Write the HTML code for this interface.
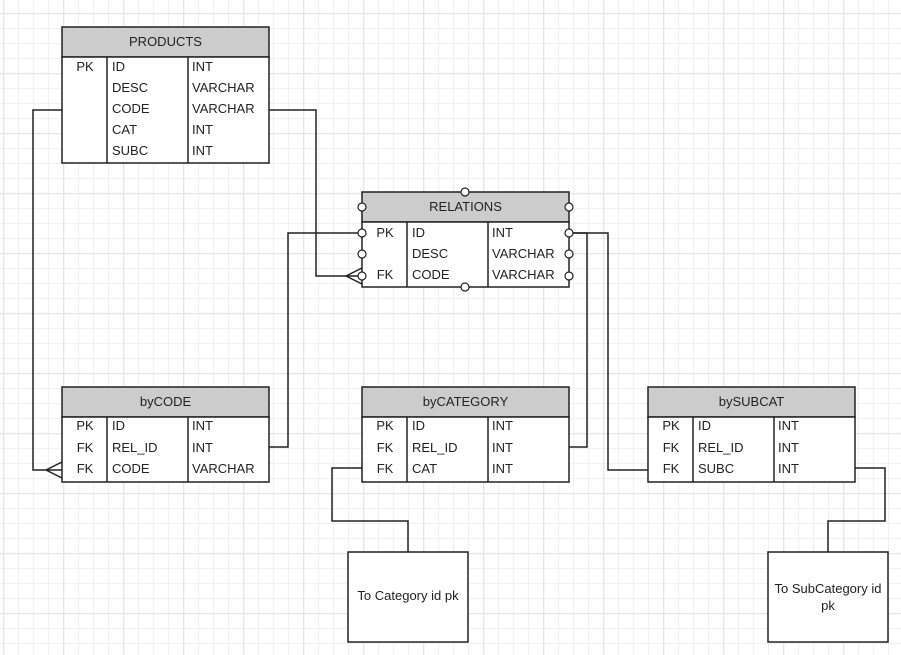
<!DOCTYPE html>
<html><head><meta charset="utf-8"><style>
html,body{margin:0;padding:0;background:#fff;}
svg{display:block;}
text{font-family:"Liberation Sans",sans-serif;font-size:13px;fill:#222;}
</style></head><body>
<svg width="901" height="655" viewBox="0 0 901 655" xmlns="http://www.w3.org/2000/svg">
<defs>
<pattern id="minor" x="3" y="-2" width="15" height="15" patternUnits="userSpaceOnUse">
<path d="M0.5 0V15M0 0.5H15" stroke="#f1f1f1" stroke-width="1.3" fill="none"/>
</pattern>
<pattern id="major" x="3" y="13" width="60" height="60" patternUnits="userSpaceOnUse">
<path d="M0.5 0V60M0 0.5H60" stroke="#e6e6e6" stroke-width="1.6" fill="none"/>
</pattern>
</defs>
<rect width="901" height="655" fill="url(#minor)"/>
<rect width="901" height="655" fill="url(#major)"/>

<g stroke="#222" stroke-width="1.5" fill="none">
<!-- connectors -->
<polyline points="62,110 33,110 33,470 62,470"/>
<polyline points="46,470 62,462"/><polyline points="46,470 62,478"/>
<polyline points="269,110 316,110 316,276 362,276"/>
<polyline points="346,276 362,268"/><polyline points="346,276 362,284"/>
<polyline points="362,233 288,233 288,447 269,447"/>
<polyline points="569,233 587,233 587,447 569,447"/>
<polyline points="569,233 608,233 608,470 648,470"/>
<polyline points="362,468 332,468 332,521 408,521 408,552"/>
<polyline points="855,468 885,468 885,521 828,521 828,552"/>
</g>

<!-- PRODUCTS -->
<g stroke="#222" stroke-width="1.5">
<rect x="62" y="27" width="207" height="30" fill="#cccccc"/>
<rect x="62" y="57" width="207" height="106" fill="#fff"/>
<line x1="107" y1="57" x2="107" y2="163"/><line x1="188" y1="57" x2="188" y2="163"/>
</g>
<text x="165.5" y="46" text-anchor="middle">PRODUCTS</text>
<text x="85" y="71" text-anchor="middle">PK</text>
<text x="112" y="71">ID</text><text x="192" y="71">INT</text>
<text x="112" y="92">DESC</text><text x="192" y="92">VARCHAR</text>
<text x="112" y="113">CODE</text><text x="192" y="113">VARCHAR</text>
<text x="112" y="134">CAT</text><text x="192" y="134">INT</text>
<text x="112" y="155">SUBC</text><text x="192" y="155">INT</text>

<!-- RELATIONS -->
<g stroke="#222" stroke-width="1.5">
<rect x="362" y="192" width="207" height="30" fill="#cccccc"/>
<rect x="362" y="222" width="207" height="65" fill="#fff"/>
<line x1="407" y1="222" x2="407" y2="287"/><line x1="488" y1="222" x2="488" y2="287"/>
</g>
<text x="465.5" y="211" text-anchor="middle">RELATIONS</text>
<text x="385" y="237" text-anchor="middle">PK</text><text x="412" y="237">ID</text><text x="492" y="237">INT</text>
<text x="412" y="258">DESC</text><text x="492" y="258">VARCHAR</text>
<text x="385" y="279" text-anchor="middle">FK</text><text x="412" y="279">CODE</text><text x="492" y="279">VARCHAR</text>
<g stroke="#222" stroke-width="1.2" fill="#fff">
<circle cx="465" cy="192" r="4"/><circle cx="465" cy="287" r="4"/>
<circle cx="362" cy="207" r="4"/><circle cx="362" cy="233" r="4"/><circle cx="362" cy="254" r="4"/><circle cx="362" cy="276" r="4"/>
<circle cx="569" cy="207" r="4"/><circle cx="569" cy="233" r="4"/><circle cx="569" cy="254" r="4"/><circle cx="569" cy="276" r="4"/>
</g>

<!-- byCODE -->
<g stroke="#222" stroke-width="1.5">
<rect x="62" y="387" width="207" height="30" fill="#cccccc"/>
<rect x="62" y="417" width="207" height="65" fill="#fff"/>
<line x1="107" y1="417" x2="107" y2="482"/><line x1="188" y1="417" x2="188" y2="482"/>
</g>
<text x="165.5" y="406" text-anchor="middle">byCODE</text>
<text x="85" y="430" text-anchor="middle">PK</text><text x="112" y="430">ID</text><text x="192" y="430">INT</text>
<text x="85" y="452" text-anchor="middle">FK</text><text x="112" y="452">REL_ID</text><text x="192" y="452">INT</text>
<text x="85" y="473" text-anchor="middle">FK</text><text x="112" y="473">CODE</text><text x="192" y="473">VARCHAR</text>

<!-- byCATEGORY -->
<g stroke="#222" stroke-width="1.5">
<rect x="362" y="387" width="207" height="30" fill="#cccccc"/>
<rect x="362" y="417" width="207" height="65" fill="#fff"/>
<line x1="407" y1="417" x2="407" y2="482"/><line x1="488" y1="417" x2="488" y2="482"/>
</g>
<text x="465.5" y="406" text-anchor="middle">byCATEGORY</text>
<text x="385" y="430" text-anchor="middle">PK</text><text x="412" y="430">ID</text><text x="492" y="430">INT</text>
<text x="385" y="452" text-anchor="middle">FK</text><text x="412" y="452">REL_ID</text><text x="492" y="452">INT</text>
<text x="385" y="473" text-anchor="middle">FK</text><text x="412" y="473">CAT</text><text x="492" y="473">INT</text>

<!-- bySUBCAT -->
<g stroke="#222" stroke-width="1.5">
<rect x="648" y="387" width="207" height="30" fill="#cccccc"/>
<rect x="648" y="417" width="207" height="65" fill="#fff"/>
<line x1="693" y1="417" x2="693" y2="482"/><line x1="774" y1="417" x2="774" y2="482"/>
</g>
<text x="751.5" y="406" text-anchor="middle">bySUBCAT</text>
<text x="671" y="430" text-anchor="middle">PK</text><text x="698" y="430">ID</text><text x="778" y="430">INT</text>
<text x="671" y="452" text-anchor="middle">FK</text><text x="698" y="452">REL_ID</text><text x="778" y="452">INT</text>
<text x="671" y="473" text-anchor="middle">FK</text><text x="698" y="473">SUBC</text><text x="778" y="473">INT</text>

<!-- notes -->
<rect x="348" y="552" width="120" height="90" fill="#fff" stroke="#222" stroke-width="1.5"/>
<text x="408" y="600" text-anchor="middle">To Category id pk</text>
<rect x="768" y="552" width="120" height="90" fill="#fff" stroke="#222" stroke-width="1.5"/>
<text x="828" y="593" text-anchor="middle">To SubCategory id</text>
<text x="828" y="610" text-anchor="middle">pk</text>
</svg>
</body></html>
